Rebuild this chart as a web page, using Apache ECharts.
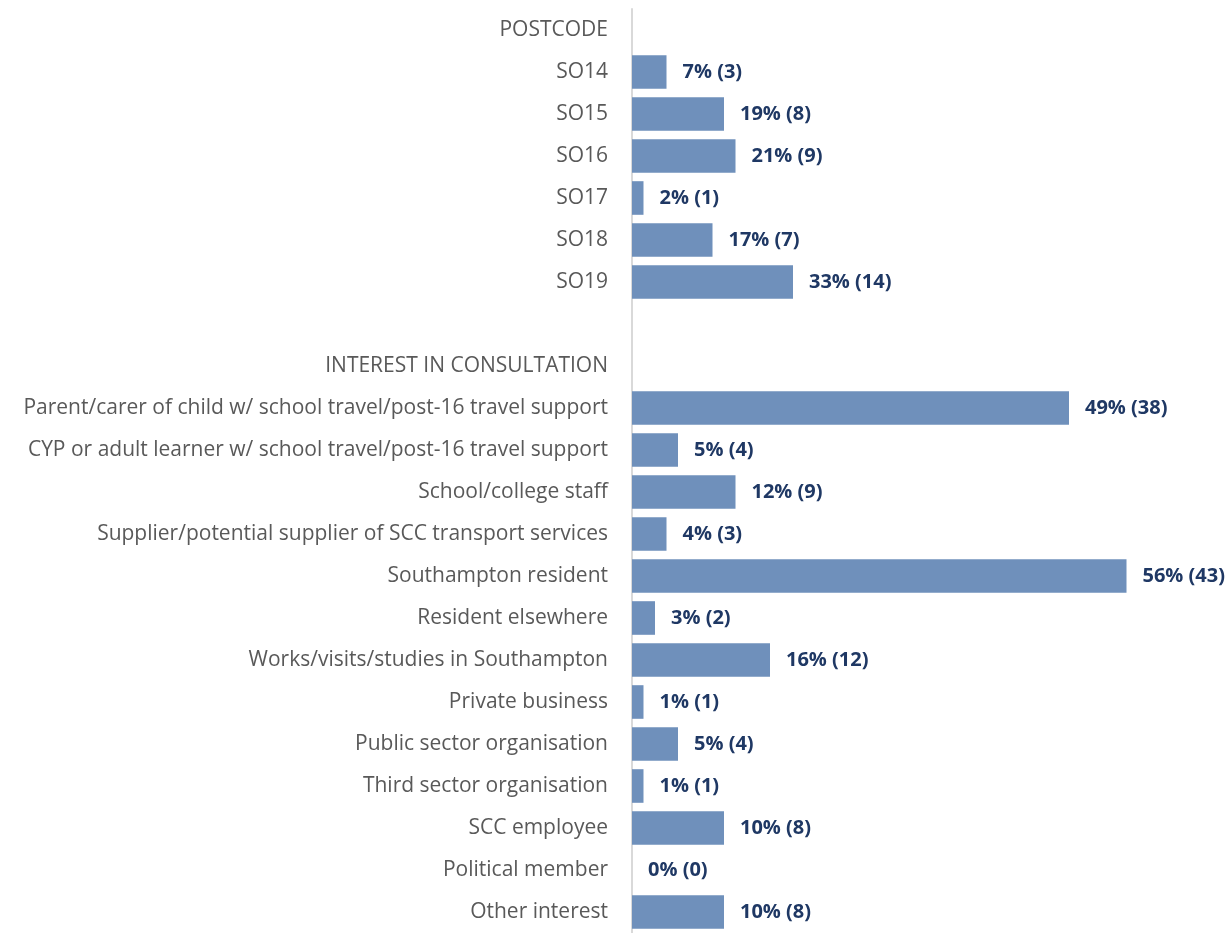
<!DOCTYPE html>
<html>
<head>
<meta charset="utf-8">
<script src="https://cdn.jsdelivr.net/npm/echarts@6/dist/echarts.min.js"></script>
<style>
html,body{margin:0;padding:0;background:#fff;}
#chart{width:1230px;height:933px;}
</style>
</head>
<body>
<div id="chart"></div>
<script>
// Categories (top to bottom)
const categories = [
  'POSTCODE',
  'SO14', 'SO15', 'SO16', 'SO17', 'SO18', 'SO19',
  '',
  'INTEREST IN CONSULTATION',
  'Parent/carer of child w/ school travel/post-16 travel support',
  'CYP or adult learner w/ school travel/post-16 travel support',
  'School/college staff',
  'Supplier/potential supplier of SCC transport services',
  'Southampton resident',
  'Resident elsewhere',
  'Works/visits/studies in Southampton',
  'Private business',
  'Public sector organisation',
  'Third sector organisation',
  'SCC employee',
  'Political member',
  'Other interest'
];
// Counts (bar length); null = header/blank row
const counts = [
  null,
  3, 8, 9, 1, 7, 14,
  null,
  null,
  38, 4, 9, 3, 43, 2, 12, 1, 4, 1, 8, 0, 8
];
// Percentages shown in labels
const percents = [
  null,
  7, 19, 21, 2, 17, 33,
  null,
  null,
  49, 5, 12, 4, 56, 3, 16, 1, 5, 1, 10, 0, 10
];

const chart = echarts.init(document.getElementById('chart'));
const seriesData = counts.map((c, i) => ({ value: c, pct: percents[i] }));

chart.setOption({
  animation: false,
  backgroundColor: '#ffffff',
  grid: { left: 632, top: 9, width: 575, height: 929, containLabel: false },
  xAxis: {
    type: 'value', min: 0, max: 50,
    show: false
  },
  yAxis: {
    type: 'category',
    data: categories,
    inverse: true,
    axisLine: { show: true, lineStyle: { color: '#D9D9D9', width: 2 } },
    axisTick: { show: false },
    axisLabel: {
      margin: 24,
      color: '#595959',
      fontSize: 21,
      fontFamily: 'Open Sans, sans-serif'
    }
  },
  series: [{
    type: 'bar',
    data: seriesData,
    barCategoryGap: '20%',
    itemStyle: { color: '#6F90BB' },
    label: {
      show: true,
      position: 'right',
      distance: 16,
      color: '#1F3864',
      fontWeight: 'bold',
      fontSize: 20,
      fontFamily: 'Open Sans, sans-serif',
      formatter: p => (p.data.value == null ? '' : p.data.pct + '% (' + p.data.value + ')')
    }
  }]
});
</script>
</body>
</html>
